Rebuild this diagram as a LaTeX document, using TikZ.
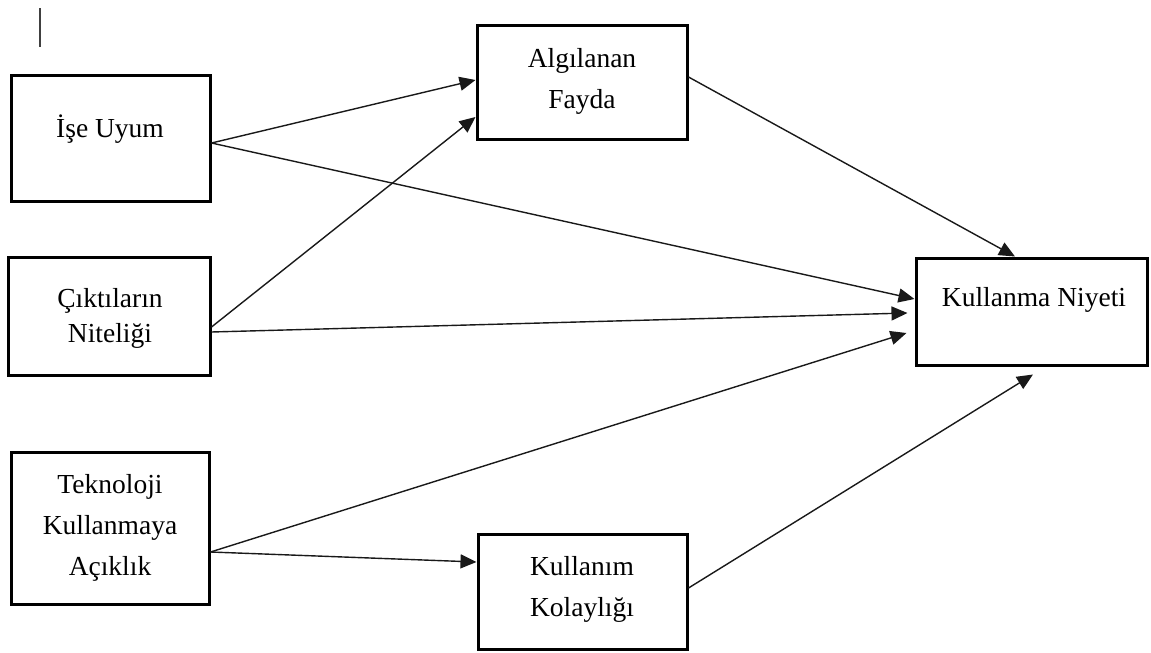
\documentclass[tikz,border=0pt]{standalone}
\usepackage{fontspec}
\setmainfont{Liberation Serif}
\usetikzlibrary{arrows.meta,calc}
\tikzset{
  box/.style={draw=black, line width=3pt, rectangle, inner sep=0pt},
  lbl/.style={align=center, inner sep=0pt, font=\fontsize{27.5}{41}\selectfont},
  lbltight/.style={align=center, inner sep=0pt, font=\fontsize{27.5}{35}\selectfont},
  arr/.style={draw=black!90, line width=1.4pt, -{Triangle[length=16pt,width=14pt]}},
}
\begin{document}
\begin{tikzpicture}[x=1pt,y=-1pt]
\useasboundingbox (0,0) rectangle (1151,653);
% stray vertical mark
\coordinate (m1) at (40,8);
\coordinate (m2) at (40,47);
\draw[line width=1.5pt, black!75] (m1) -- (m2);
% boxes
\node[box, minimum width=199pt, minimum height=126pt] (iu) at (110.5,138) {};
\node[box, minimum width=202pt, minimum height=118pt] (cn) at (109,316) {};
\node[box, minimum width=198pt, minimum height=152pt] (tk) at (110,528) {};
\node[box, minimum width=210pt, minimum height=114pt] (af) at (582,82) {};
\node[box, minimum width=209pt, minimum height=115pt] (kk) at (582.5,591.5) {};
\node[box, minimum width=231pt, minimum height=107pt] (kn) at (1031.5,311.5) {};
% labels
\node[lbl] (iuT) at (110,129) {İşe Uyum};
\node[lbltight] (cnT) at (110,318) {Çıktıların\\Niteliği};
\node[lbl] (tkT) at (110,528) {Teknoloji\\Kullanmaya\\Açıklık};
\node[lbl] (afT) at (582,81) {Algılanan\\Fayda};
\node[lbl] (kkT) at (582,589) {Kullanım\\Kolaylığı};
\node[lbl] (knT) at (1034,300) {Kullanma Niyeti};
% connectors
\draw[arr] ([yshift=-5pt]iu.east) -- ([yshift=2pt]af.west);
\draw[arr] ([yshift=-5pt]iu.east) -- ([yshift=12.5pt]kn.west);
\draw[arr] ([yshift=-11pt]cn.east) -- ([yshift=-35pt]af.west);
\draw[arr] ([yshift=-16pt]cn.east) -- ([xshift=-7pt,yshift=-1.5pt]kn.west);
\draw[arr] ([yshift=-24pt]tk.east) -- ([xshift=-8pt,yshift=-21.5pt]kn.west);
\draw[arr] ([yshift=-24pt]tk.east) -- ([yshift=29.5pt]kk.west);
\draw[arr] ([yshift=5pt]af.east) -- ([xshift=-16.5pt]kn.north);
\draw[arr] ([yshift=3.5pt]kk.east) -- ([xshift=1.5pt,yshift=-8pt]kn.south);
\end{tikzpicture}
\end{document}
